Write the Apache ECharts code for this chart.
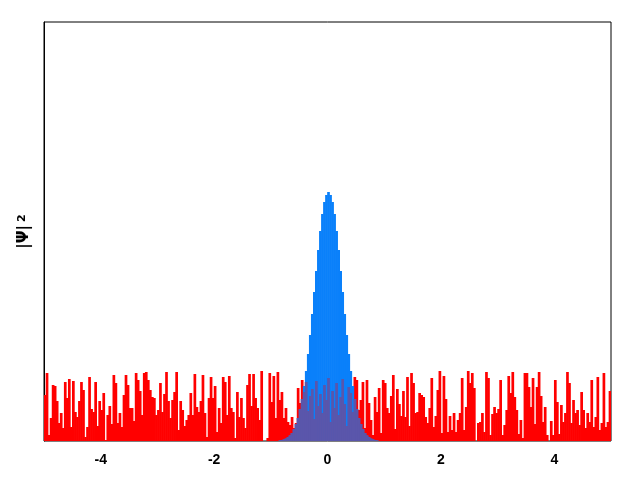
<!DOCTYPE html>
<html>
<head>
<meta charset="utf-8">
<script src="https://cdn.jsdelivr.net/npm/echarts@6/dist/echarts.min.js"></script>
<style>
  html, body { margin: 0; padding: 0; background: #ffffff; }
  #chart { width: 640px; height: 480px; }
</style>
</head>
<body>
<div id="chart"></div>
<script>
// x range and tick labels
const xMin = -5;
const xMax = 5;
const xTickValues = [-4, -2, 0, 2, 4];
const yLabelBase = '|\u03A8|';
const yLabelSup = '2';

// red noisy distribution, 280 bins over [-5, 5]
const redValues = [
  0.46,0.68,0.06,0.23,0.56,0.55,0.40,0.18,0.28,0.13,0.59,0.43,0.62,0.14,0.60,0.29,0.24,0.40,0.59,0.51,
  0.04,0.14,0.64,0.32,0.29,0.59,0.15,0.40,0.31,0.48,0.01,0.26,0.35,0.17,0.66,0.58,0.18,0.28,0.14,0.46,
  0.66,0.56,0.33,0.33,0.20,0.68,0.61,0.50,0.26,0.68,
  0.69,0.61,0.51,0.44,0.43,0.26,0.31,0.58,0.29,
  0.47,0.69,0.40,0.23,0.41,0.49,0.69,0.11,0.40,0.31,0.15,0.21,0.26,0.48,0.26,0.67,0.34,0.29,0.40,0.66,
  0.28,0.04,0.43,0.64,0.43,0.55,0.09,0.33,0.18,0.64,
  0.59,0.26,0.65,0.33,0.29,0.03,0.49,0.24,0.43,0.23,0.13,0.56,0.67,0.35,0.67,0.43,0.33,0.21,0.70,0.00,
  0.00,0.03,
  0.68,0.39,0.65,0.23,0.69,0.41,0.49,0.23,0.33,0.19,0.16,0.24,0.13,0.18,0.53,
  0.38,0.61,0.49,0.59,0.30,0.45,0.52,0.22,0.60,0.35,0.47,0.28,0.56,0.41,0.63,0.19,0.50,0.33,0.58,0.26,
  0.44,0.62,0.37,0.15,0.54,0.48,0.29,
  0.64,0.61,0.31,0.41,0.59,0.13,0.61,0.38,0.21,0.06,0.44,0.29,0.53,0.08,0.61,0.58,0.33,0.28,
  0.45,0.66,0.12,0.52,0.37,
  0.25,0.50,0.24,0.64,0.15,0.68,0.58,0.28,0.29,0.48,0.46,0.44,0.24,0.18,0.33,0.63,0.14,0.25,0.51,0.70,
  0.08,0.65,0.42,0.09,0.25,0.11,0.28,0.09,0.21,0.28,0.63,0.11,0.34,0.70,0.58,0.68,0.53,0.00,0.18,0.19,
  0.28,0.09,0.69,0.63,0.06,0.27,0.34,0.28,0.32,0.61,0.06,0.16,0.31,0.65,0.48,0.69,0.44,0.31,0.07,0.21,
  0.03,0.68,0.68,0.54,0.34,0.63,0.17,0.54,0.69,0.45,0.19,0.34,0.06,0.00,0.20,0.06,0.61,0.39,0.07,0.36,
  0.19,0.28,0.69,0.58,0.18,0.41,0.28,0.31,0.16,0.49,0.31,0.13,0.28,0.19,0.61,0.14,0.24,0.64,0.11,0.18,
  0.68,0.14,0.19,0.50
];

// blue peak, starting at bin index blueStart
const blueStart = 116;
const blueValues = [
  0.005,0.009,0.015,0.024,0.037,0.055,0.08,0.12,0.17,0.23,0.32,0.42,0.55,0.70,0.87,1.06,1.27,1.49,1.70,1.91,
  2.10,2.27,2.39,2.46,2.49,2.46,2.39,2.27,2.10,1.91,1.70,1.49,1.27,1.06,0.87,0.70,0.55,0.42,0.32,0.23,
  0.17,0.12,0.08,0.055,0.037,0.024,0.015,0.009,0.005
];

const yMax = 4.19;

const categories = redValues.map((_, i) => String(i));
const blueData = redValues.map((_, i) => {
  const j = i - blueStart;
  return (j >= 0 && j < blueValues.length) ? blueValues[j] : 0;
});
const overlapData = redValues.map((r, i) => Math.min(r, blueData[i]));

const chart = echarts.init(document.getElementById('chart'), null, { renderer: 'canvas' });
chart.setOption({
  backgroundColor: '#ffffff',
  animation: false,
  grid: {
    left: 44, right: 29, top: 22, bottom: 39,
    show: true, borderColor: '#000000', borderWidth: 1, backgroundColor: 'transparent'
  },
  xAxis: [
    {
      type: 'category',
      data: categories,
      show: false,
      boundaryGap: true
    },
    {
      type: 'value',
      min: xMin, max: xMax,
      position: 'bottom',
      axisLine: { show: false },
      splitLine: { show: false },
      axisTick: { show: true, inside: true, length: 3, customValues: xTickValues, lineStyle: { color: '#333333' } },
      axisLabel: {
        customValues: xTickValues,
        margin: 12,
        color: '#000000',
        fontFamily: 'Liberation Sans',
        fontWeight: 'bold',
        fontSize: 14
      }
    }
  ],
  yAxis: {
    type: 'value',
    min: 0, max: yMax,
    name: yLabelBase + '{sup|' + yLabelSup + '}',
    nameLocation: 'middle',
    nameGap: 12,
    nameRotate: 90,
    nameTextStyle: {
      color: '#000000', fontFamily: 'DejaVu Sans', fontWeight: 'bold', fontSize: 15,
      rich: {
        sup: { color: '#000000', fontFamily: 'DejaVu Sans', fontWeight: 'bold', fontSize: 11, verticalAlign: 'top', padding: [0, 0, 0, 3] }
      }
    },
    axisLine: { show: true, onZero: false, lineStyle: { color: '#000000' } },
    axisTick: { show: false },
    axisLabel: { show: false },
    splitLine: { show: false }
  },
  series: [
    {
      type: 'bar', name: 'red', xAxisIndex: 0, data: redValues,
      itemStyle: { color: '#ff0000' },
      barWidth: 2.7, barGap: '-100%', z: 2, silent: true
    },
    {
      type: 'bar', name: 'blue', xAxisIndex: 0, data: blueData,
      itemStyle: { color: '#0a80fa' },
      barWidth: 2.7, barGap: '-100%', z: 3, silent: true
    },
    {
      type: 'bar', name: 'overlap', xAxisIndex: 0, data: overlapData,
      itemStyle: { color: '#5a56ab' },
      barWidth: 2.7, barGap: '-100%', z: 4, silent: true
    }
  ]
});
</script>
</body>
</html>
